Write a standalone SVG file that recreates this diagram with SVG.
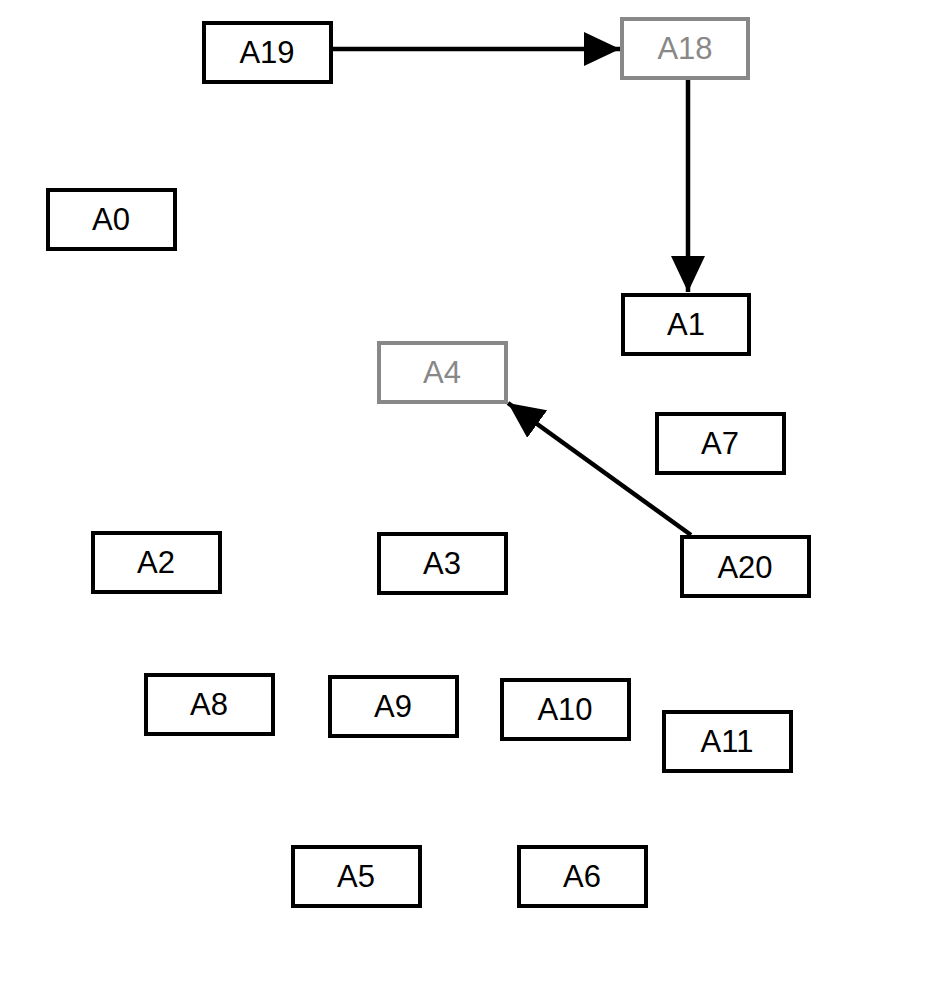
<svg xmlns="http://www.w3.org/2000/svg" width="925" height="1004" viewBox="0 0 925 1004">
<defs>
<style>
.n rect{fill:#fff;stroke:#000;stroke-width:4}
.n text{font-family:"Liberation Sans",Arial,sans-serif;font-size:31px;fill:#000;text-anchor:middle;dominant-baseline:central}
.g rect{stroke:#888}
.g text{fill:#888}
.e{stroke:#000;stroke-width:4.5;fill:none;marker-end:url(#ah)}
</style>
<marker id="ah" viewBox="0 0 36 34" refX="36" refY="17" markerWidth="36" markerHeight="34" markerUnits="userSpaceOnUse" orient="auto">
<path d="M0,0 L36,17 L0,34 z" fill="#000"/>
</marker>
</defs>
<rect width="925" height="1004" fill="#fff"/>
<g id="connectors">
<line class="e" x1="331" y1="49" x2="620" y2="49"/>
<line class="e" x1="688" y1="80" x2="688" y2="292"/>
<line class="e" x1="691" y1="535" x2="508" y2="403"/>
</g>
<g id="A19" class="n"><rect x="204" y="23" width="127" height="59"/><text x="267" y="52">A19</text></g>
<g id="A18" class="n g"><rect x="622" y="19" width="126" height="59"/><text x="685" y="48">A18</text></g>
<g id="A0" class="n"><rect x="48" y="190" width="127" height="59"/><text x="111" y="219">A0</text></g>
<g id="A1" class="n"><rect x="623" y="295" width="126" height="59"/><text x="686" y="324">A1</text></g>
<g id="A4" class="n g"><rect x="379" y="343" width="127" height="59"/><text x="442" y="372">A4</text></g>
<g id="A7" class="n"><rect x="657" y="414" width="127" height="59"/><text x="720" y="443">A7</text></g>
<g id="A2" class="n"><rect x="93" y="533" width="127" height="59"/><text x="156" y="562">A2</text></g>
<g id="A3" class="n"><rect x="379" y="534" width="127" height="59"/><text x="442" y="563">A3</text></g>
<g id="A20" class="n"><rect x="682" y="537" width="127" height="59"/><text x="745" y="567">A20</text></g>
<g id="A8" class="n"><rect x="146" y="675" width="127" height="59"/><text x="209" y="704">A8</text></g>
<g id="A9" class="n"><rect x="330" y="677" width="127" height="59"/><text x="393" y="706">A9</text></g>
<g id="A10" class="n"><rect x="502" y="680" width="127" height="59"/><text x="565" y="709">A10</text></g>
<g id="A11" class="n"><rect x="664" y="712" width="127" height="59"/><text x="727" y="741">A11</text></g>
<g id="A5" class="n"><rect x="293" y="847" width="127" height="59"/><text x="356" y="876">A5</text></g>
<g id="A6" class="n"><rect x="519" y="847" width="127" height="59"/><text x="582" y="876">A6</text></g>
</svg>
